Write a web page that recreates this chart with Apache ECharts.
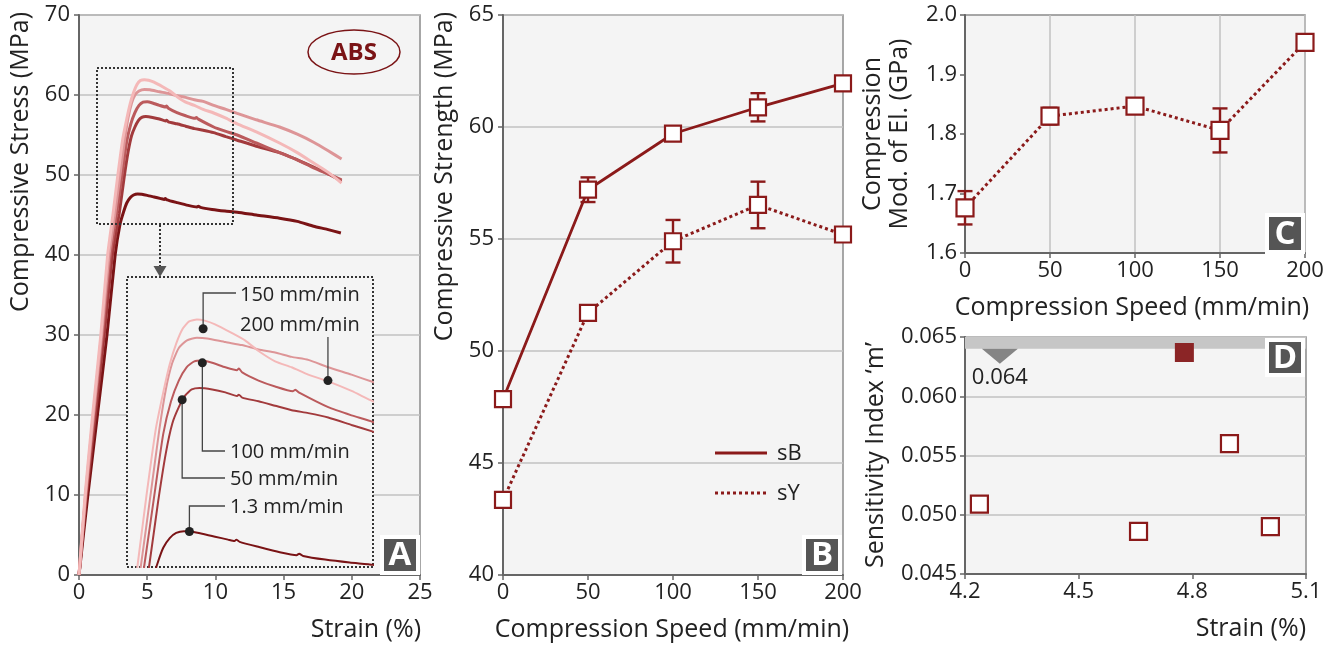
<!DOCTYPE html>
<html>
<head>
<meta charset="utf-8">
<script src="https://cdn.jsdelivr.net/npm/echarts@6/dist/echarts.min.js"></script>
<style>
  html, body { margin: 0; padding: 0; background: #fff; }
  #chart { width: 1339px; height: 647px; }
</style>
</head>
<body>
<div id="chart"></div>
<script>
// ---- Panel A: stress-strain curves [strain %, stress MPa] ----
var curve13 = [[0,0],[0.65,10],[1.35,20],[2.05,30],[2.65,40],[3.0,43.8],[3.27,45.4],[3.5,46.5],[3.75,47.15],[4.0,47.5],[4.3,47.62],[4.6,47.58],[5.0,47.45],[5.5,47.25],[6.0,47.05],[6.25,46.95],[6.32,47.05],[6.45,46.9],[7.2,46.55],[8.0,46.2],[8.65,46.0],[8.75,46.1],[8.9,45.95],[9.75,45.7],[10.7,45.5],[11.6,45.35],[13.0,45.0],[14.7,44.6],[16.0,44.2],[17.2,43.6],[18.2,43.2],[19.2,42.75]];
var curve50 = [[0,0],[0.55,10],[1.2,20],[1.85,30],[2.45,40],[2.95,45.2],[3.3,49.6],[3.6,52.9],[3.85,54.9],[4.1,56.0],[4.35,56.8],[4.6,57.2],[4.9,57.3],[5.39,57.2],[5.9,57.0],[6.35,56.75],[6.42,56.85],[6.55,56.65],[7.18,56.4],[7.82,56.1],[8.46,55.8],[9.1,55.6],[9.87,55.3],[10.77,54.8],[11.6,54.35],[13.0,53.6],[14.7,52.8],[16.0,51.9],[17.2,51.0],[18.3,50.1],[19.25,49.25]];
var curve100 = [[0,0],[0.5,10],[1.1,20],[1.72,30],[2.3,40],[2.76,45.2],[3.2,50.6],[3.5,54.2],[3.8,56.4],[4.1,57.8],[4.4,58.7],[4.7,59.1],[5.0,59.15],[5.39,59.0],[5.9,58.7],[6.35,58.5],[6.42,58.62],[6.55,58.35],[7.18,57.8],[7.82,57.4],[8.5,57.08],[8.6,57.18],[8.75,56.98],[9.87,56.0],[10.77,55.45],[11.6,55.0],[13.0,54.0],[14.7,52.8],[16.0,51.9],[17.2,50.9],[18.3,50.1],[19.25,49.4]];
var curve150 = [[0,0],[0.48,10],[1.05,20],[1.65,30],[2.2,40],[2.63,45.2],[3.05,50.6],[3.35,54.5],[3.6,57.2],[3.85,59.0],[4.1,60.0],[4.4,60.5],[4.8,60.7],[5.2,60.65],[5.9,60.4],[6.54,60.2],[7.18,59.9],[7.82,59.7],[8.46,59.4],[9.1,59.2],[9.87,58.7],[10.77,58.2],[11.6,57.7],[13.0,56.9],[14.7,56.0],[16.0,55.1],[17.2,54.1],[18.3,53.0],[19.25,52.0]];
var curve200 = [[0,0],[0.45,10],[1.0,20],[1.6,30],[2.1,40],[2.5,45.2],[2.85,50],[3.21,54.5],[3.5,57.0],[3.75,58.9],[4.0,60.3],[4.25,61.3],[4.5,61.8],[4.8,61.92],[5.1,61.85],[5.5,61.6],[6.16,61.0],[6.67,60.5],[7.18,59.8],[7.82,59.1],[8.46,58.7],[9.1,58.2],[9.87,57.75],[10.77,57.1],[11.6,56.4],[13.0,55.4],[14.7,54.0],[16.0,52.8],[17.2,51.5],[18.3,50.3],[19.25,49.0]];
var curveNames = ['1.3 mm/min', '50 mm/min', '100 mm/min', '150 mm/min', '200 mm/min'];
var curveColors = ['#7a1315', '#a23a3c', '#bb5a5c', '#dd9597', '#f4b8b8'];

// inset annotation points (on the curves) and their labels
var notePoints = [[5.04, 61.3], [9.86, 57.8], [5.01, 59.0], [4.23, 56.5], [4.51, 47.6]];
var noteLabels = ['150 mm/min', '200 mm/min', '100 mm/min', '50 mm/min', '1.3 mm/min'];

// ---- Panel B: compressive strength vs speed ----
var speeds = [0, 50, 100, 150, 200];
var sB = [47.85, 57.2, 59.7, 60.88, 61.95];
var sBErr = [0.2, 0.55, 0.2, 0.63, 0.2];
var sY = [43.35, 51.7, 54.9, 56.52, 55.2];
var sYErr = [0.2, 0.2, 0.95, 1.04, 0.2];

// ---- Panel C: modulus ----
var modulus = [1.676, 1.830, 1.847, 1.806, 1.954];
var modErr = [0.028, 0.014, 0.01, 0.037, 0.005];

// ---- Panel D: sensitivity index ----
var dStrain = [4.238, 4.658, 4.779, 4.898, 5.006];
var dIndex = [0.0509, 0.0486, 0.0637, 0.0560, 0.0490];
var dFilled = 2;
var mThreshold = 0.064;
var mThresholdX = 4.292;

var RED = '#8b1a1a';
var FONT = '"Open Sans", sans-serif';
var TICK = 22;
var TITLE = 25;

var chart = echarts.init(document.getElementById('chart'));

function xAx(grid, min, max, interval, opts) {
  return Object.assign({
    type: 'value', gridIndex: grid, min: min, max: max, interval: interval,
    axisLine: { show: true, onZero: false, lineStyle: { color: '#666', width: 2 } },
    axisTick: { show: true, length: 5, lineStyle: { color: '#666', width: 1.5 } },
    axisLabel: { fontSize: TICK, color: '#222', margin: 7, fontFamily: FONT },
    splitLine: { show: false }
  }, opts || {});
}
function yAx(grid, min, max, interval, opts) {
  return Object.assign({
    type: 'value', gridIndex: grid, min: min, max: max, interval: interval,
    axisLine: { show: true, onZero: false, lineStyle: { color: '#666', width: 2 } },
    axisTick: { show: true, length: 5, lineStyle: { color: '#666', width: 1.5 } },
    axisLabel: { fontSize: TICK, color: '#222', margin: 9, fontFamily: FONT },
    splitLine: { show: true, lineStyle: { color: '#c2c2c2', width: 1.5 } }
  }, opts || {});
}
var gridStyle = { show: true, backgroundColor: '#f4f4f4', borderColor: '#8a8a8a', borderWidth: 1.5 };

function errorBars(xi, yi, xs, mean, err) {
  return {
    type: 'custom', xAxisIndex: xi, yAxisIndex: yi, z: 1, silent: true,
    data: xs.map(function (x, i) { return [x, mean[i] - err[i], mean[i] + err[i]]; }),
    renderItem: function (params, api) {
      var lo = api.coord([api.value(0), api.value(1)]);
      var hi = api.coord([api.value(0), api.value(2)]);
      var w = 7.5;
      var st = { stroke: RED, lineWidth: 2.4 };
      return { type: 'group', children: [
        { type: 'line', shape: { x1: lo[0], y1: lo[1], x2: hi[0], y2: hi[1] }, style: st },
        { type: 'line', shape: { x1: lo[0] - w, y1: lo[1], x2: lo[0] + w, y2: lo[1] }, style: st },
        { type: 'line', shape: { x1: hi[0] - w, y1: hi[1], x2: hi[0] + w, y2: hi[1] }, style: st }
      ] };
    }
  };
}

function pairs(xs, ys) { return xs.map(function (x, i) { return [x, ys[i]]; }); }

var series = [];
var curves = [curve13, curve50, curve100, curve150, curve200];
curves.forEach(function (c, i) {
  series.push({ type: 'line', name: curveNames[i], xAxisIndex: 0, yAxisIndex: 0, data: c,
    showSymbol: false, smooth: 0.18, silent: true,
    lineStyle: { color: curveColors[i], width: 3 } });
});
curves.forEach(function (c, i) {
  series.push({ type: 'line', name: curveNames[i] + ' inset', xAxisIndex: 1, yAxisIndex: 1, data: c,
    showSymbol: false, smooth: 0.18, silent: true, clip: true, z: 3,
    lineStyle: { color: curveColors[i], width: 2 } });
});
series.push({ type: 'scatter', xAxisIndex: 1, yAxisIndex: 1, data: notePoints, symbolSize: 9,
  itemStyle: { color: '#222', opacity: 1 }, z: 20, silent: true });

var markerStyle = { color: '#fff', borderColor: RED, borderWidth: 2.2, opacity: 1 };
series.push(errorBars(2, 2, speeds, sB, sBErr));
series.push(errorBars(2, 2, speeds, sY, sYErr));
series.push({ type: 'line', name: 'sB', xAxisIndex: 2, yAxisIndex: 2, data: pairs(speeds, sB),
  symbol: 'rect', symbolSize: 16, itemStyle: markerStyle, silent: true,
  lineStyle: { color: RED, width: 2.8 } });
series.push({ type: 'line', name: 'sY', xAxisIndex: 2, yAxisIndex: 2, data: pairs(speeds, sY),
  symbol: 'rect', symbolSize: 16, itemStyle: markerStyle, silent: true,
  lineStyle: { color: RED, width: 3, type: [3, 3] } });

series.push(errorBars(3, 3, speeds, modulus, modErr));
series.push({ type: 'line', xAxisIndex: 3, yAxisIndex: 3, data: pairs(speeds, modulus),
  symbol: 'rect', symbolSize: 17, itemStyle: markerStyle, silent: true,
  lineStyle: { color: RED, width: 3, type: [3, 3] } });

series.push({ type: 'scatter', xAxisIndex: 4, yAxisIndex: 4, silent: true,
  data: dStrain.map(function (x, i) {
    return { value: [x, dIndex[i]], itemStyle: i === dFilled
      ? { color: '#8b2526', borderColor: '#8b2526', borderWidth: 2, opacity: 1 }
      : { color: '#fff', borderColor: RED, borderWidth: 2.2, opacity: 1 } };
  }),
  symbol: 'rect', symbolSize: 17, z: 5,
  markArea: { silent: true, itemStyle: { color: '#c6c6c6', opacity: 1 },
    data: [[{ yAxis: mThreshold }, { yAxis: 0.065 }]] }
});
series.push({ type: 'scatter', xAxisIndex: 4, yAxisIndex: 4, silent: true, z: 6,
  data: [[mThresholdX, mThreshold]],
  symbol: 'path://M0,0 L36,0 L18,15 Z', symbolSize: [36, 15], symbolOffset: [0, 7.5],
  itemStyle: { color: '#858585', opacity: 1 },
  label: { show: true, position: 'bottom', distance: 3, fontSize: TICK, color: '#222', fontFamily: FONT,
    formatter: function (p) { return p.value[1].toFixed(3); } }
});

var option = {
  animation: false,
  backgroundColor: '#fff',
  textStyle: { fontFamily: FONT },
  grid: [
    Object.assign({ left: 79, top: 15, width: 341, height: 560 }, gridStyle),
    { left: 127, top: 277, width: 246, height: 290, show: false },
    Object.assign({ left: 503, top: 15, width: 340, height: 560 }, gridStyle),
    Object.assign({ left: 965, top: 15, width: 340, height: 238 }, gridStyle),
    Object.assign({ left: 965, top: 337, width: 341, height: 237 }, gridStyle)
  ],
  xAxis: [
    xAx(0, 0, 25, 5),
    { type: 'value', gridIndex: 1, min: 2.1, max: 11.6, show: false },
    xAx(2, 0, 200, 50),
    xAx(3, 0, 200, 50, { splitLine: { show: true, lineStyle: { color: '#c2c2c2', width: 1.5 } } }),
    xAx(4, 4.2, 5.1, 0.3, { axisLabel: { fontSize: TICK, color: '#222', margin: 7, fontFamily: FONT,
      formatter: function (v) { return v.toFixed(1); } } })
  ],
  yAxis: [
    yAx(0, 0, 70, 10),
    { type: 'value', gridIndex: 1, min: 45.2, max: 64.8, show: false },
    yAx(2, 40, 65, 5),
    yAx(3, 1.6, 2.0, 0.1, { splitLine: { show: false }, axisLabel: { fontSize: TICK, color: '#222', margin: 8, fontFamily: FONT,
      formatter: function (v) { return v.toFixed(1); } } }),
    yAx(4, 0.045, 0.065, 0.005, { axisLabel: { fontSize: TICK, color: '#222', margin: 8, fontFamily: FONT,
      formatter: function (v) { return v.toFixed(3); } } })
  ],
  series: series
};
chart.setOption(option);

function txt(x, y, s, opts) {
  var o = opts || {};
  return { type: 'text', x: x, y: y, rotation: o.rot || 0, z: o.z || 60, silent: true,
    style: { text: s, font: (o.bold ? 'bold ' : '') + (o.size || TITLE) + 'px ' + FONT,
      fill: o.color || '#222', align: o.align || 'left', verticalAlign: 'middle',
      textAlign: o.align || 'left', textVerticalAlign: 'middle' } };
}
function panelBox(x, y, w, h, s) {
  return [
    { type: 'rect', z: 100, silent: true, shape: { x: x, y: y, width: w, height: h },
      style: { fill: '#555', stroke: '#fff', lineWidth: 4 } },
    txt(x + w / 2, y + h / 2 + 1, s, { size: 33, bold: true, color: '#fff', align: 'center', z: 101 })
  ];
}

var els = [];
// axis titles
els.push(txt(21, 12, 'Compressive Stress (MPa)', { rot: Math.PI / 2, align: 'right' }));
els.push(txt(421, 630, 'Strain (%)', { align: 'right' }));
els.push(txt(445, 12, 'Compressive Strength (MPa)', { rot: Math.PI / 2, align: 'right' }));
els.push(txt(672, 630, 'Compression Speed (mm/min)', { align: 'center' }));
els.push(txt(873, 134, 'Compression', { rot: Math.PI / 2, align: 'center' }));
els.push(txt(900, 134, 'Mod. of El. (GPa)', { rot: Math.PI / 2, align: 'center' }));
els.push(txt(1132, 308, 'Compression Speed (mm/min)', { align: 'center' }));
els.push(txt(876, 455, 'Sensitivity Index \u2018m\u2019', { rot: Math.PI / 2, align: 'center' }));
els.push(txt(1306, 629, 'Strain (%)', { align: 'right' }));

// ABS badge
els.push({ type: 'ellipse', z: 50, silent: true, shape: { cx: 354, cy: 52, rx: 46, ry: 22 },
  style: { fill: 'transparent', stroke: '#7a1315', lineWidth: 1.5 } });
els.push(txt(354, 53, 'ABS', { size: 24, bold: true, color: '#7a1315', align: 'center' }));

// zoom box + arrow + inset frame
els.push({ type: 'rect', z: 50, silent: true, shape: { x: 97, y: 68, width: 136, height: 156 },
  style: { fill: 'transparent', stroke: '#333', lineWidth: 2, lineDash: [2, 2] } });
els.push({ type: 'line', z: 50, silent: true, shape: { x1: 160, y1: 225, x2: 160, y2: 267 },
  style: { stroke: '#333', lineWidth: 2, lineDash: [2, 2] } });
els.push({ type: 'polygon', z: 50, silent: true, shape: { points: [[153.5, 266], [166.5, 266], [160, 277]] },
  style: { fill: '#555' } });
els.push({ type: 'rect', z: 1, silent: true, shape: { x: 127, y: 277, width: 246, height: 290 },
  style: { fill: '#f4f4f4', stroke: '#333', lineWidth: 2, lineDash: [2, 2] } });

// leaders in the inset
var leaderBend = [293, 337, 451, 478, 506];
var leaderEnd = [236, null, 225, 225, 225];
var labelPos = [[240, 295], [240, 325], [230, 452], [230, 479], [230, 507]];
notePoints.forEach(function (pt, i) {
  var p = chart.convertToPixel({ xAxisIndex: 1, yAxisIndex: 1 }, pt);
  var pts = [[p[0], p[1]], [p[0], leaderBend[i]]];
  if (leaderEnd[i] !== null) pts.push([leaderEnd[i], leaderBend[i]]);
  els.push({ type: 'polyline', z: 10, silent: true, shape: { points: pts },
    style: { stroke: '#444', lineWidth: 1.3, fill: null } });
  els.push(txt(labelPos[i][0], labelPos[i][1], noteLabels[i], { size: 20 }));
});

// legend for panel B
els.push({ type: 'line', z: 50, silent: true, shape: { x1: 715, y1: 453, x2: 767, y2: 453 },
  style: { stroke: RED, lineWidth: 3 } });
els.push({ type: 'line', z: 50, silent: true, shape: { x1: 715, y1: 493, x2: 767, y2: 493 },
  style: { stroke: RED, lineWidth: 3, lineDash: [3, 3] } });
els.push(txt(777, 454, 'sB', { size: 22 }));
els.push(txt(777, 494, 'sY', { size: 22 }));

// panel letters
els = els.concat(panelBox(382, 537, 36, 36, 'A'));
els = els.concat(panelBox(804, 537, 36, 36, 'B'));
els = els.concat(panelBox(1267, 215, 36, 37, 'C'));
els = els.concat(panelBox(1267, 340, 36, 35, 'D'));

chart.setOption({ graphic: { elements: els } });
</script>
</body>
</html>
